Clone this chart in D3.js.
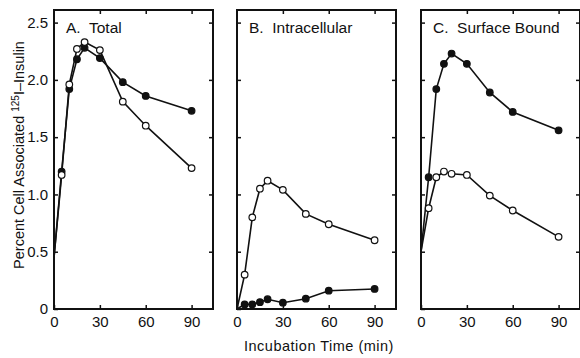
<!DOCTYPE html>
<html>
<head>
<meta charset="utf-8">
<script src="https://cdn.jsdelivr.net/npm/d3@7"></script>
<style>
  body { margin: 0; background: #fff; }
  text { font-family: "Liberation Sans", Arial, Helvetica, sans-serif; fill: #111; }
  .tick line { stroke: #111; stroke-width: 1.5; }
</style>
</head>
<body>
<div id="chart"></div>
<script>
// data (minutes, % of cell associated insulin)
const times = [0, 5, 10, 15, 20, 30, 45, 60, 90];
const panelTitles = ["A.  Total", "B.  Intracellular", "C.  Surface Bound"];
const totalFilled = [0.45, 1.20, 1.92, 2.18, 2.28, 2.19, 1.98, 1.86, 1.73];
const totalOpen = [0.45, 1.17, 1.96, 2.27, 2.33, 2.26, 1.81, 1.60, 1.23];
const intraFilled = [0, 0.04, 0.04, 0.06, 0.085, 0.055, 0.09, 0.16, 0.175];
const intraOpen = [0, 0.30, 0.80, 1.05, 1.12, 1.04, 0.83, 0.74, 0.60];
const surfFilled = [0.5, 1.15, 1.92, 2.14, 2.23, 2.14, 1.89, 1.72, 1.56];
const surfOpen = [0.5, 0.88, 1.15, 1.20, 1.18, 1.17, 0.99, 0.86, 0.63];
const xTicks = [0, 30, 60, 90];
const yTicks = [0, 0.5, 1, 1.5, 2, 2.5];

const panels = [
    {title: panelTitles[0], filled: totalFilled, open: totalOpen},
    {title: panelTitles[1], filled: intraFilled, open: intraOpen},
    {title: panelTitles[2], filled: surfFilled, open: surfOpen}
];

const W = 580, H = 358;
const panelLeft = [54, 237, 421],
    panelWidth = 159,
    plotTop = 10,
    plotBottom = 309;

const svg = d3.select("#chart")
    .append("svg")
    .attr("width", W)
    .attr("height", H);

const y = d3.scaleLinear()
    .domain([0, 2.61])
    .range([plotBottom, plotTop]);

const line = d3.line()
    .x(d => d.x)
    .y(d => d.y);

panels.forEach(function (p, i) {
    const x = d3.scaleLinear()
        .domain([0, 104])
        .range([panelLeft[i], panelLeft[i] + panelWidth]);

    const g = svg.append("g");

    // inward ticks on all four sides
    g.append("g")
        .attr("transform", `translate(${panelLeft[i]},0)`)
        .call(d3.axisLeft(y).tickValues(yTicks).tickSize(-4).tickPadding(6)
            .tickFormat(d => i === 0 ? (d === 0 ? "0" : d.toFixed(1)) : ""));
    g.append("g")
        .attr("transform", `translate(${panelLeft[i] + panelWidth},0)`)
        .call(d3.axisRight(y).tickValues(yTicks.slice(1)).tickSize(-4).tickFormat(""));
    g.append("g")
        .attr("transform", `translate(0,${plotBottom})`)
        .call(d3.axisBottom(x).tickValues(xTicks).tickSize(-4).tickPadding(7));
    g.append("g")
        .attr("transform", `translate(0,${plotTop})`)
        .call(d3.axisTop(x).tickValues(xTicks.slice(1)).tickSize(-4).tickFormat(""));

    g.selectAll(".domain").remove();
    g.selectAll(".tick text")
        .style("font-size", "15px")
        .attr("fill", "#111");

    // frame
    g.append("rect")
        .attr("x", panelLeft[i])
        .attr("y", plotTop)
        .attr("width", panelWidth)
        .attr("height", plotBottom - plotTop)
        .attr("fill", "none")
        .attr("stroke", "#111")
        .attr("stroke-width", 2);

    g.append("text")
        .attr("x", panelLeft[i] + 12)
        .attr("y", 32.5)
        .style("font-size", "15.5px")
        .style("white-space", "pre")
        .text(p.title);

    [p.filled, p.open].forEach(function (vals, k) {
        const pts = times.map((t, j) => ({x: x(t), y: y(vals[j])}));
        g.append("path")
            .attr("d", line(pts))
            .attr("fill", "none")
            .attr("stroke", "#111")
            .attr("stroke-width", 1.6);
        g.selectAll(null)
            .data(pts.slice(1))
            .join("circle")
            .attr("cx", d => d.x)
            .attr("cy", d => d.y)
            .attr("r", 3.3)
            .attr("fill", k === 0 ? "#111" : "#fff")
            .attr("stroke", "#111")
            .attr("stroke-width", 1.2);
    });
});

// axis titles
const yTitle = svg.append("text")
    .attr("transform", "translate(24,155) rotate(-90)")
    .attr("text-anchor", "middle")
    .style("font-size", "14.5px");
yTitle.append("tspan").text("Percent Cell Associated ");
yTitle.append("tspan").attr("dy", -5).style("font-size", "10px").text("125");
yTitle.append("tspan").attr("dy", 5).text("I\u2013Insulin");

svg.append("text")
    .attr("x", 319)
    .attr("y", 351)
    .attr("text-anchor", "middle")
    .style("font-size", "14.5px")
    .style("letter-spacing", "0.5px")
    .text("Incubation Time (min)");
</script>
</body>
</html>
